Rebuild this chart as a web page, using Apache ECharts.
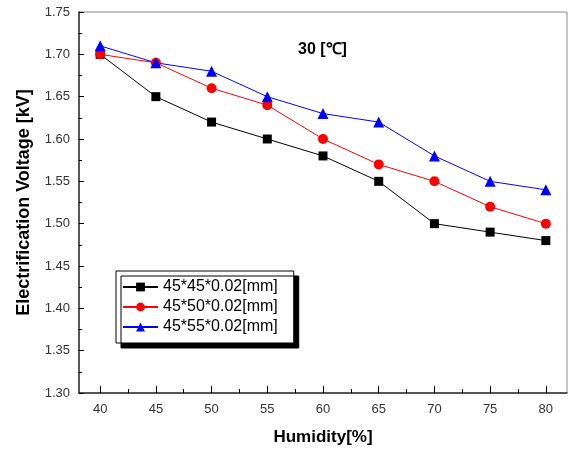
<!DOCTYPE html>
<html>
<head>
<meta charset="utf-8">
<script src="https://cdn.jsdelivr.net/npm/echarts@6/dist/echarts.min.js"></script>
<style>
  html, body { margin: 0; padding: 0; background: #fff; }
  #chart { width: 568px; height: 451px; }
</style>
</head>
<body>
<div id="chart"></div>
<script>
// humidity [%]
const humidity = [40, 45, 50, 55, 60, 65, 70, 75, 80];
const majorTicks = [40, 45, 50, 55, 60, 65, 70, 75, 80];
const minorTicks = [42.5, 47.5, 52.5, 57.5, 62.5, 67.5, 72.5, 77.5];

// electrification voltage [kV]
const v45x45 = [1.70, 1.65, 1.62, 1.60, 1.58, 1.55, 1.50, 1.49, 1.48];
const v45x50 = [1.70, 1.69, 1.66, 1.64, 1.60, 1.57, 1.55, 1.52, 1.50];
const v45x55 = [1.71, 1.69, 1.68, 1.65, 1.63, 1.62, 1.58, 1.55, 1.54];

const names = ['45*45*0.02[mm]', '45*50*0.02[mm]', '45*55*0.02[mm]'];

const pair = (ys) => humidity.map((x, i) => [x, ys[i]]);

const font = 'Arial, "Liberation Sans", sans-serif';

const chart = echarts.init(document.getElementById('chart'));

function line(name, ys, color, symbol, size) {
  return {
    name, type: 'line', data: pair(ys),
    symbol, symbolSize: size,
    lineStyle: { color, width: 1 },
    itemStyle: { color },
    animation: false
  };
}

chart.setOption({
  animation: false,
  grid: {
    left: 79, right: 1, top: 12, bottom: 57,
    show: true, borderColor: '#888', borderWidth: 1
  },
  title: {
    text: '30 [℃]',
    left: 293, top: 37,
    textStyle: { fontFamily: font, fontSize: 16, fontWeight: 'bold', color: '#000' }
  },
  legend: {
    orient: 'vertical',
    left: 116, top: 271,
    itemWidth: 35, itemHeight: 11, itemGap: 4,
    padding: [8, 16, 8, 6],
    backgroundColor: '#fff',
    borderColor: '#000', borderWidth: 1,
    shadowColor: '#000', shadowBlur: 0, shadowOffsetX: 5, shadowOffsetY: 5,
    textStyle: { fontFamily: font, fontSize: 16, color: '#000' },
    data: names
  },
  xAxis: [{
    type: 'value', min: 38.1, max: 81.9,
    name: 'Humidity[%]', nameLocation: 'middle', nameGap: 36,
    nameTextStyle: { fontFamily: font, fontSize: 17, fontWeight: 'bold', color: '#000' },
    axisLine: { show: true, lineStyle: { color: '#333', width: 1.5 } },
    axisTick: { show: true, inside: true, length: 7, customValues: majorTicks, lineStyle: { color: '#000' } },
    axisLabel: { customValues: majorTicks, margin: 10, fontFamily: font, fontSize: 13, color: '#333' },
    splitLine: { show: false }
  }, {
    type: 'value', min: 38.1, max: 81.9, position: 'bottom',
    axisLine: { show: false },
    axisTick: { show: true, inside: true, length: 4, customValues: minorTicks, lineStyle: { color: '#000' } },
    axisLabel: { show: false },
    splitLine: { show: false }
  }],
  yAxis: {
    type: 'value', min: 1.30, max: 1.75, interval: 0.05,
    name: 'Electrification Voltage [kV]', nameLocation: 'middle', nameGap: 46,
    nameTextStyle: { fontFamily: font, fontSize: 18, fontWeight: 'bold', color: '#000' },
    axisLine: { show: true, lineStyle: { color: '#333', width: 1.5 } },
    axisTick: { show: true, inside: true, length: 5, lineStyle: { color: '#000' } },
    minorTick: { show: true, splitNumber: 2, length: 3, lineStyle: { color: '#000' } },
    axisLabel: { margin: 9, fontFamily: font, fontSize: 13, color: '#333', formatter: (v) => v.toFixed(2) },
    splitLine: { show: false }
  },
  series: [
    line(names[0], v45x45, '#000', 'rect', 9),
    line(names[1], v45x50, '#ff0000', 'circle', 10),
    line(names[2], v45x55, '#0000ff', 'triangle', 11)
  ]
});
</script>
</body>
</html>
